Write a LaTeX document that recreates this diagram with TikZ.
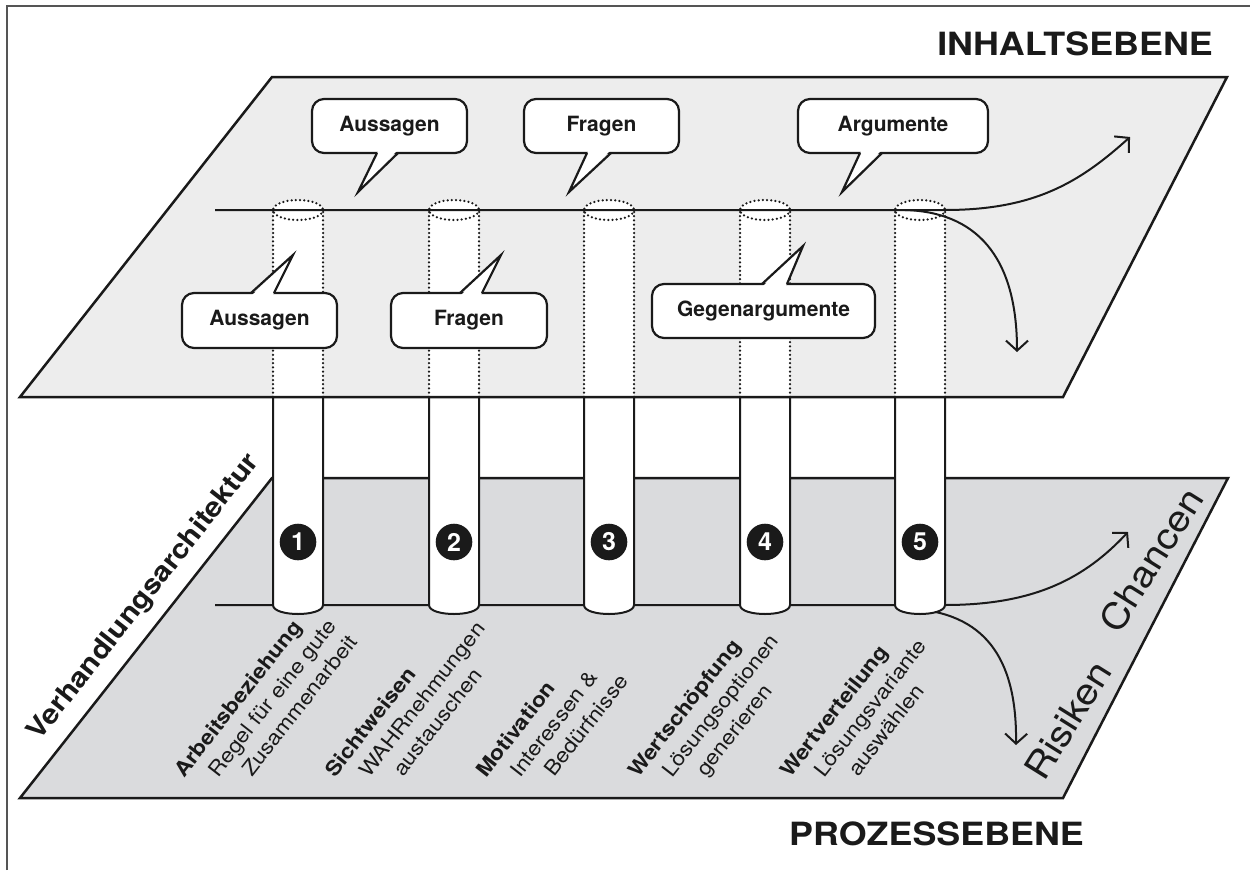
\documentclass[tikz,border=0pt]{standalone}
\usepackage{fontspec}
\setmainfont{TeX Gyre Heros}
\newfontfamily\titlefont[FakeStretch=1.12]{TeX Gyre Heros}
\newfontfamily\labelfont[FakeStretch=1.12]{TeX Gyre Heros}
\usetikzlibrary{arrows.meta,calc}
\definecolor{ink}{HTML}{1A1A1A}
\definecolor{upperfill}{HTML}{EDEDED}
\definecolor{lowerfill}{HTML}{DADBDD}
\definecolor{framecol}{HTML}{555555}
\begin{document}
\begin{tikzpicture}[x=1pt,y=-1pt,
  plane/.style={draw=ink, line width=2.5pt, line join=miter},
  pil/.style={draw=ink, line width=2pt, fill=white},
  dots/.style={draw=ink, line width=2.5pt, line cap=round, dash pattern=on 0pt off 4.2pt},
  flow/.style={draw=ink, line width=2pt, -{Straight Barb[length=10pt,width=22pt]}},
  tail/.style={draw=ink, line width=2.2pt, line join=miter},
  callout/.style={draw=ink, line width=2.2pt, fill=white, rounded corners=12pt, inner sep=0pt, outer sep=0pt, minimum height=54pt, text=ink, font=\bfseries\fontsize{21}{24}\selectfont},
  lbl/.style={anchor=base west, rotate=52, inner sep=0pt, text=ink, font=\labelfont\fontsize{20.5}{24}\selectfont},
  lblb/.style={lbl, font=\labelfont\bfseries\fontsize{20.5}{24}\selectfont},
  num/.style={circle, fill=ink, text=white, minimum size=36.6pt, inner sep=0pt, font=\bfseries\fontsize{25}{25}\selectfont},
  title/.style={inner sep=0pt, text=ink, font=\titlefont\bfseries\fontsize{32}{36}\selectfont},
  side/.style={inner sep=0pt, text=ink, rotate=58, font=\titlefont\fontsize{36}{40}\selectfont}
]
\useasboundingbox (0,0) rectangle (1250,870);

% frame
\draw[framecol, line width=1.5pt] (7,870) -- (7,6) -- (1250,6);

% lower plane
\filldraw[plane, fill=lowerfill] (20,798) -- (1063,798) -- (1228,478) -- (272,478) -- cycle;
\draw[flow] (215,605) -- (945,605) .. controls (1035,605) and (1085,578) .. (1128,532);
\draw[flow] (915,609) .. controls (990,615) and (1017,665) .. (1016,745);

% pillars, lower part
\foreach \cx in {298,454,609,765,920}{
  \filldraw[pil] (\cx-25,397) -- (\cx-25,605) .. controls (\cx-25,617) and (\cx+25,617) .. (\cx+25,605) -- (\cx+25,397);
}

% upper plane
\fill[upperfill] (20,397) -- (1063,397) -- (1227,77) -- (272,77) -- cycle;
\foreach \cx in {298,454,609,765,920}{
  \fill[white] (\cx-25,210) rectangle (\cx+25,397);
  \fill[white] (\cx,210) ellipse [x radius=25, y radius=10];
  \draw[dots] (\cx-25,212) -- (\cx-25,397);
  \draw[dots] (\cx+25,212) -- (\cx+25,397);
  \draw[dots] (\cx,210) ellipse [x radius=25, y radius=10];
}
\draw[flow] (215,210) -- (945,210) .. controls (1035,210) and (1080,182) .. (1130,137);
\draw[flow] (905,210) .. controls (975,212) and (1017,255) .. (1017,352);
\draw[plane] (20,397) -- (1063,397) -- (1227,77) -- (272,77) -- cycle;

% numbers
\foreach \cx [count=\i] in {298,454,609,765,920}{
  \node[num] (n\i) at (\cx,542) {\i};
}

% callouts, upper row
\node[callout, minimum width=155pt] (a1) at (389.5,126) {Aussagen};
\node[callout, minimum width=155pt] (f1) at (601.5,126) {Fragen};
\node[callout, minimum width=190pt] (r1) at (893,126) {Argumente};
\coordinate (ta1) at (358,192);
\coordinate (tf1) at (569,192);
\coordinate (tr1) at (842,192);
\fill[white] ($(a1.south west)+(66.2,-2)$) -- ($(a1.south west)+(84.8,-2)$) -- (ta1) -- cycle;
\draw[tail] ($(a1.south west)+(65,0)$) -- (ta1) -- ($(a1.south west)+(86,0)$);
\fill[white] ($(f1.south west)+(64.2,-2)$) -- ($(f1.south west)+(85.8,-2)$) -- (tf1) -- cycle;
\draw[tail] ($(f1.south west)+(63,0)$) -- (tf1) -- ($(f1.south west)+(87,0)$);
\fill[white] ($(r1.south west)+(63.2,-2)$) -- ($(r1.south west)+(82.8,-2)$) -- (tr1) -- cycle;
\draw[tail] ($(r1.south west)+(62,0)$) -- (tr1) -- ($(r1.south west)+(84,0)$);

% callouts, lower row
\node[callout, minimum width=155pt, minimum height=55pt] (a2) at (259.5,320.5) {Aussagen};
\node[callout, minimum width=156pt, minimum height=55pt] (f2) at (469,320.5) {Fragen};
\node[callout, minimum width=223pt] (g2) at (763.5,311) {Gegenargumente};
\coordinate (ta2) at (293,255);
\coordinate (tf2) at (501,255);
\coordinate (tg2) at (803,246);
\fill[white] ($(a2.north west)+(70.2,2)$) -- ($(a2.north west)+(90.8,2)$) -- (ta2) -- cycle;
\draw[tail] ($(a2.north west)+(69,0)$) -- (ta2) -- ($(a2.north west)+(92,0)$);
\fill[white] ($(f2.north west)+(70.2,2)$) -- ($(f2.north west)+(89.8,2)$) -- (tf2) -- cycle;
\draw[tail] ($(f2.north west)+(69,0)$) -- (tf2) -- ($(f2.north west)+(91,0)$);
\fill[white] ($(g2.north west)+(111.2,2)$) -- ($(g2.north west)+(133.8,2)$) -- (tg2) -- cycle;
\draw[tail] ($(g2.north west)+(110,0)$) -- (tg2) -- ($(g2.north west)+(135,0)$);

% titles
\node[title, anchor=base east] (inhalt) at (1213,55) {INHALTSEBENE};
\node[title, anchor=base west] (prozess) at (789,845) {PROZESSEBENE};

% side labels
\node[anchor=base, rotate=51.8, inner sep=0pt, text=ink, font=\titlefont\bfseries\fontsize{27}{30}\selectfont] (verh) at (150,602) {Verhandlungsarchitektur};
\node[side] (chancen) at (1151,560) {Chancen};
\node[side] (risiken) at (1068,720) {Risiken};

% step labels
\node[lblb] (l1a) at (184,779) {Arbeitsbeziehung};
\node[lbl]  (l1b) at (218,779) {Regel für eine gute};
\node[lbl]  (l1c) at (252,778) {Zusammenarbeit};
\node[lblb] (l2a) at (335,779) {Sichtweisen};
\node[lbl]  (l2b) at (369,779) {WAHRnehmungen};
\node[lbl]  (l2c) at (403,778) {austauschen};
\node[lblb] (l3a) at (486,779) {Motivation};
\node[lbl]  (l3b) at (520,779) {Interessen \&};
\node[lbl]  (l3c) at (554,778) {Bedürfnisse};
\node[lblb] (l4a) at (638,779) {Wertschöpfung};
\node[lbl]  (l4b) at (672,779) {Lösungsoptionen};
\node[lbl]  (l4c) at (706,778) {generieren};
\node[lblb] (l5a) at (790,779) {Wertverteilung};
\node[lbl]  (l5b) at (824,779) {Lösungsvariante};
\node[lbl]  (l5c) at (858,778) {auswählen};
\end{tikzpicture}
\end{document}
